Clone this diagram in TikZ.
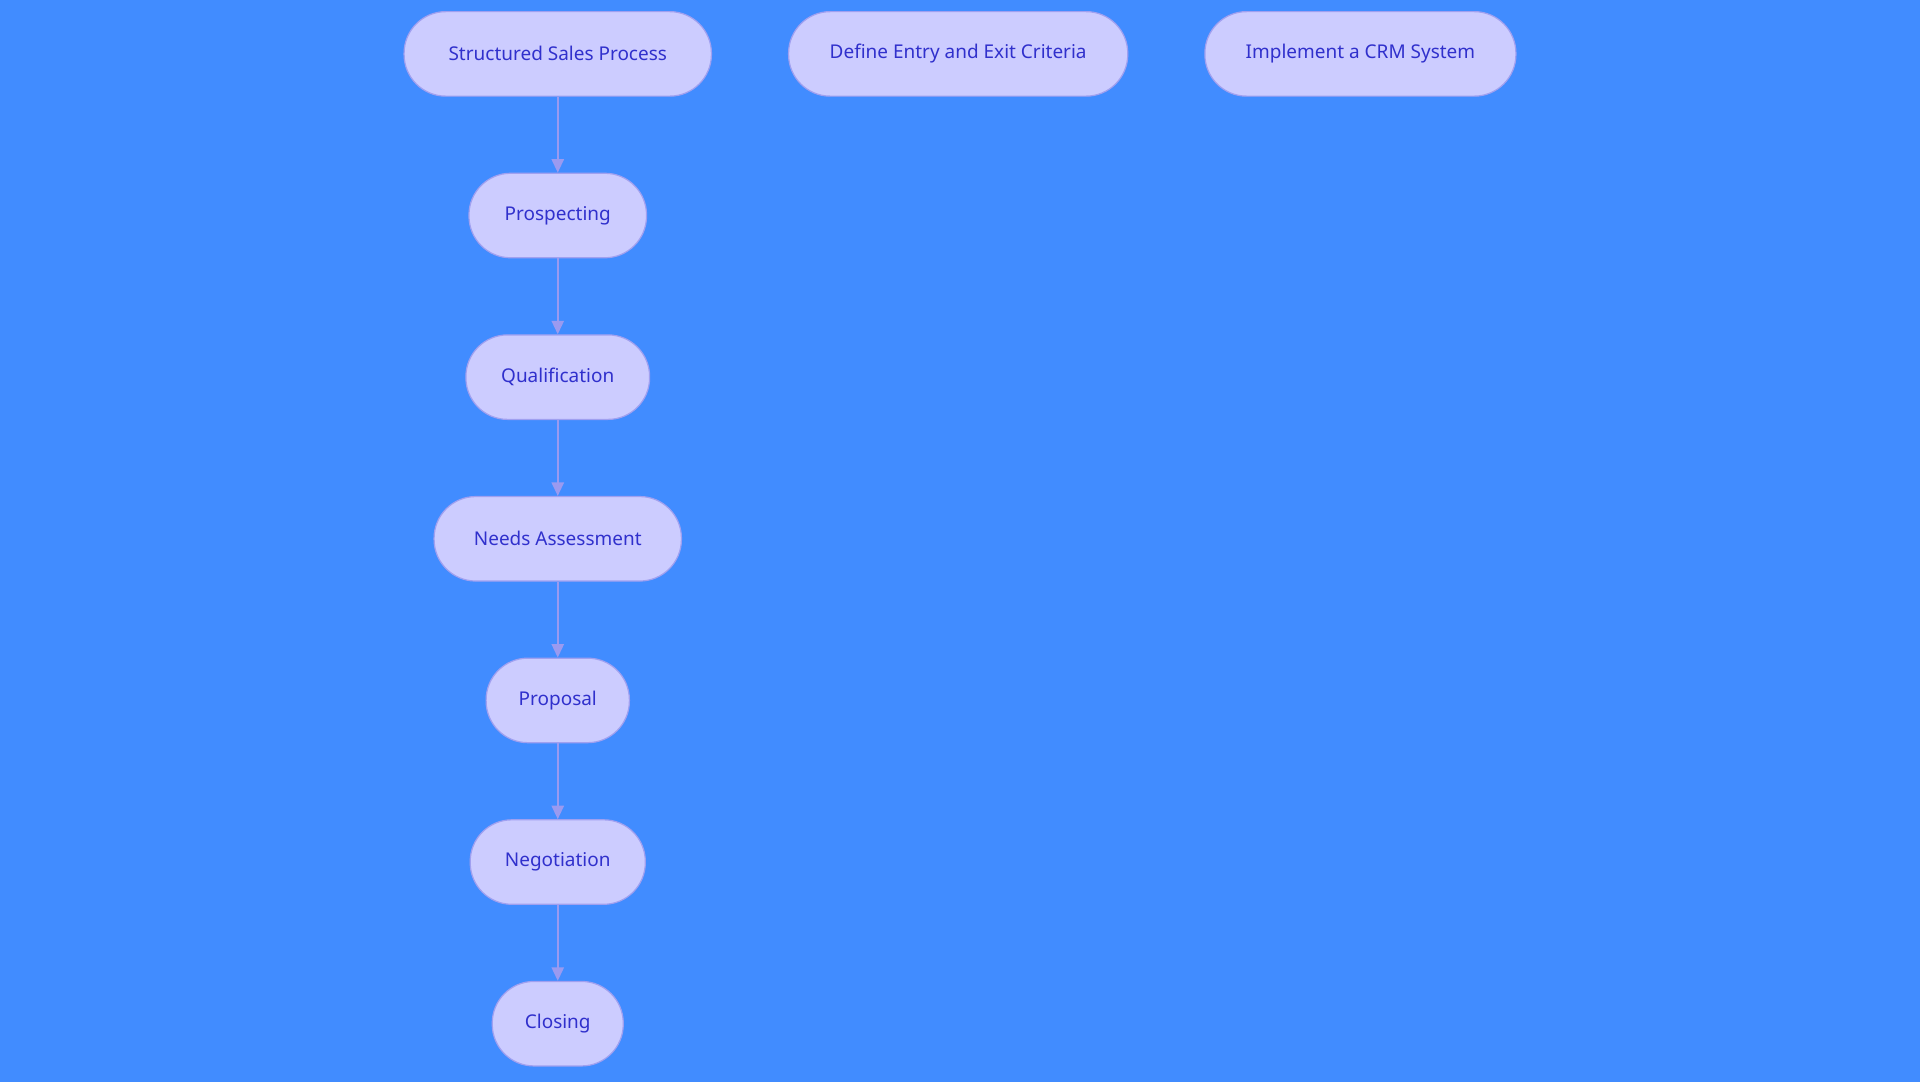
\documentclass[tikz,border=0pt]{standalone}
\usepackage{fontspec}
\setmainfont{Noto Sans}
\usetikzlibrary{arrows.meta}
\definecolor{bg}{HTML}{418CFF}
\definecolor{nf}{HTML}{CCCCFF}
\definecolor{nb}{HTML}{A0A0F0}
\definecolor{tx}{HTML}{3030CC}
\definecolor{ar}{HTML}{9A9AF0}
\begin{document}
\begin{tikzpicture}[x=1pt,y=-1pt,
  box/.style={draw=nb,fill=nf,line width=1pt,rounded corners=34pt,minimum height=69pt,inner sep=0pt,text=tx,font=\fontsize{15.5}{18}\selectfont},
  arr/.style={draw=ar,line width=1.5pt,-{Triangle[length=11pt,width=10pt]}}]
\fill[bg] (0,0) rectangle (1568,884);
\useasboundingbox (0,0) rectangle (1568,884);
\node[box,minimum width=251pt] (s) at (455.5,44) {Structured Sales Process};
\node[box,minimum width=277pt] (d) at (782.5,44) {Define Entry and Exit Criteria};
\node[box,minimum width=254pt] (c) at (1111,44) {Implement a CRM System};
\node[box,minimum width=145pt] (p1) at (455.5,176) {Prospecting};
\node[box,minimum width=150pt] (p2) at (455.5,308) {Qualification};
\node[box,minimum width=202pt] (p3) at (455.5,440) {Needs Assessment};
\node[box,minimum width=117pt] (p4) at (455.5,572) {Proposal};
\node[box,minimum width=143pt] (p5) at (455.5,704) {Negotiation};
\node[box,minimum width=107pt] (p6) at (455.5,836) {Closing};
\draw[arr] (s) -- (p1);
\draw[arr] (p1) -- (p2);
\draw[arr] (p2) -- (p3);
\draw[arr] (p3) -- (p4);
\draw[arr] (p4) -- (p5);
\draw[arr] (p5) -- (p6);
\end{tikzpicture}
\end{document}
